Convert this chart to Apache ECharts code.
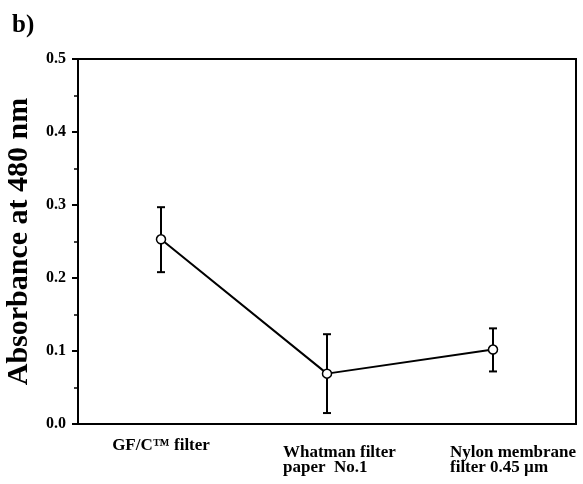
<!DOCTYPE html>
<html>
<head>
<meta charset="utf-8">
<script src="https://cdn.jsdelivr.net/npm/echarts@6/dist/echarts.min.js"></script>
<style>
  html, body { margin: 0; padding: 0; background: #fff; }
  #chart { width: 583px; height: 484px; }
</style>
</head>
<body>
<div id="chart"></div>
<script>
// 数据
var categories = ["GF/C\u2122 filter", "Whatman filter\npaper  No.1", "Nylon membrane\nfilter 0.45 \u00b5m"];
var absorbance = [0.253, 0.069, 0.102];
var errLow = [0.208, 0.015, 0.072];
var errHigh = [0.297, 0.123, 0.131];

var font = "'Liberation Serif', 'Times New Roman', serif";
var richKeys = ["g", "w", "n"];

var errData = categories.map(function (c, i) {
  return [i, errLow[i], errHigh[i]];
});

var chart = echarts.init(document.getElementById("chart"));

var labelBase = { fontFamily: font, fontWeight: "bold", fontSize: 17, lineHeight: 15, color: "#000", align: "left" };

var option = {
  animation: false,
  title: {
    text: "b)",
    left: 7,
    top: 8,
    textStyle: { fontFamily: font, fontWeight: "bold", fontSize: 25, color: "#000" }
  },
  grid: {
    left: 78,
    right: 7,
    top: 59,
    bottom: 60,
    outerBoundsMode: "none",
    containLabel: false,
    show: true,
    borderColor: "#000",
    borderWidth: 2
  },
  xAxis: {
    type: "category",
    data: [
      { value: categories[0] },
      { value: categories[1], textStyle: { padding: [7, 0, 0, 32] } },
      { value: categories[2], textStyle: { padding: [7, 0, 0, 49] } }
    ],
    boundaryGap: true,
    axisLine: { lineStyle: { color: "#000", width: 2 } },
    axisTick: { alignWithLabel: true, interval: 0, length: 6, lineStyle: { color: "#000", width: 2 } },
    axisLabel: {
      interval: 0,
      hideOverlap: false,
      margin: 14,
      fontFamily: font,
      fontWeight: "bold",
      fontSize: 17,
      lineHeight: 15,
      color: "#000",
      formatter: function (v, i) {
        var k = richKeys[i];
        return v.split("\n").map(function (s) { return "{" + k + "|" + s + "}"; }).join("\n");
      },
      rich: {
        g: labelBase,
        w: Object.assign({}, labelBase, { width: 120 }),
        n: Object.assign({}, labelBase, { width: 135 })
      }
    },
    splitLine: { show: false }
  },
  yAxis: {
    type: "value",
    min: 0,
    max: 0.5,
    interval: 0.1,
    name: "Absorbance at 480 nm",
    nameLocation: "middle",
    nameGap: 44,
    nameTextStyle: { fontFamily: font, fontWeight: "bold", fontSize: 30, color: "#000" },
    axisLine: { show: true, lineStyle: { color: "#000", width: 2 } },
    axisTick: { show: true, length: 6, lineStyle: { color: "#000", width: 2 } },
    minorTick: { show: true, splitNumber: 2, length: 4, lineStyle: { color: "#000", width: 1.5 } },
    axisLabel: {
      margin: 12,
      fontFamily: font,
      fontWeight: "bold",
      fontSize: 16,
      color: "#000",
      formatter: function (v) { return v.toFixed(1); }
    },
    splitLine: { show: false }
  },
  series: [
    {
      type: "custom",
      data: errData,
      z: 1,
      renderItem: function (params, api) {
        var x = api.value(0);
        var lo = api.coord([x, api.value(1)]);
        var hi = api.coord([x, api.value(2)]);
        var w = 4;
        var st = { stroke: "#000", lineWidth: 2 };
        return {
          type: "group",
          children: [
            { type: "line", shape: { x1: lo[0], y1: lo[1], x2: hi[0], y2: hi[1] }, style: st },
            { type: "line", shape: { x1: lo[0] - w, y1: lo[1], x2: lo[0] + w, y2: lo[1] }, style: st },
            { type: "line", shape: { x1: hi[0] - w, y1: hi[1], x2: hi[0] + w, y2: hi[1] }, style: st }
          ]
        };
      }
    },
    {
      type: "line",
      data: absorbance,
      z: 3,
      symbol: "circle",
      symbolSize: 9,
      lineStyle: { color: "#000", width: 2 },
      itemStyle: { color: "#fff", borderColor: "#000", borderWidth: 1.5 }
    }
  ]
};

chart.setOption(option);
</script>
</body>
</html>
